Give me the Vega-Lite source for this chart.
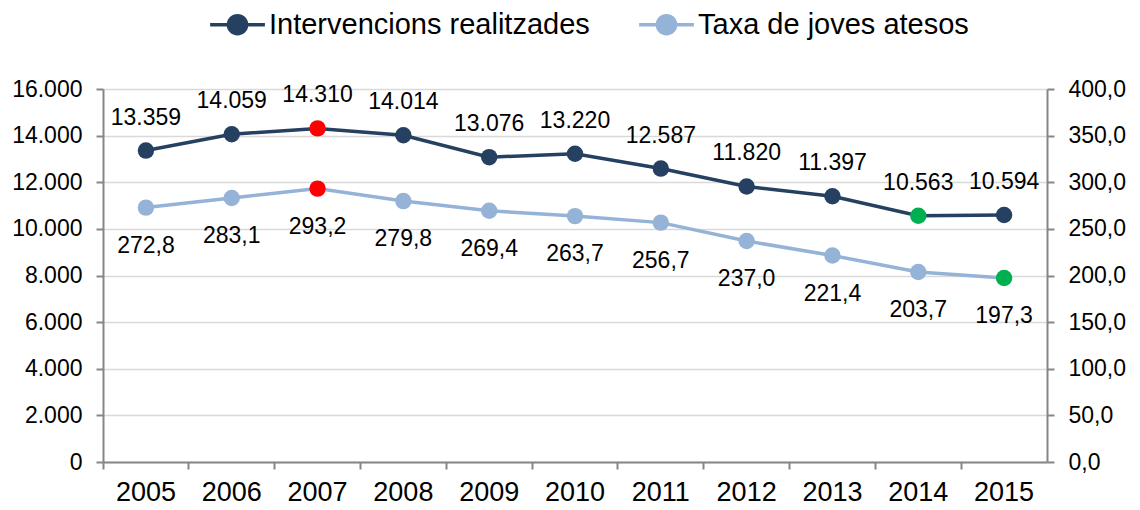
{
  "$schema": "https://vega.github.io/schema/vega-lite/v6.json",
  "width": 944,
  "height": 373,
  "autosize": {"type": "none"},
  "padding": {"left": 103, "top": 89, "right": 93, "bottom": 48},
  "config": {
    "font": "Liberation Sans",
    "view": {"stroke": null},
    "locale": {"number": {"decimal": ",", "thousands": ".", "grouping": [3], "currency": ["", " €"]}},
    "axis": {
      "domainColor": "#868686",
      "domainWidth": 2,
      "tickColor": "#868686",
      "tickWidth": 2,
      "tickSize": 7,
      "labelColor": "#000000",
      "labelFont": "Liberation Sans",
      "title": null
    }
  },
  "data": {
    "values": [
      {"year": "2005", "serie": "Intervencions realitzades", "v": 13359},
      {"year": "2006", "serie": "Intervencions realitzades", "v": 14059},
      {"year": "2007", "serie": "Intervencions realitzades", "v": 14310},
      {"year": "2008", "serie": "Intervencions realitzades", "v": 14014},
      {"year": "2009", "serie": "Intervencions realitzades", "v": 13076},
      {"year": "2010", "serie": "Intervencions realitzades", "v": 13220},
      {"year": "2011", "serie": "Intervencions realitzades", "v": 12587},
      {"year": "2012", "serie": "Intervencions realitzades", "v": 11820},
      {"year": "2013", "serie": "Intervencions realitzades", "v": 11397},
      {"year": "2014", "serie": "Intervencions realitzades", "v": 10563},
      {"year": "2015", "serie": "Intervencions realitzades", "v": 10594},
      {"year": "2005", "serie": "Taxa de joves atesos", "v": 272.8},
      {"year": "2006", "serie": "Taxa de joves atesos", "v": 283.1},
      {"year": "2007", "serie": "Taxa de joves atesos", "v": 293.2},
      {"year": "2008", "serie": "Taxa de joves atesos", "v": 279.8},
      {"year": "2009", "serie": "Taxa de joves atesos", "v": 269.4},
      {"year": "2010", "serie": "Taxa de joves atesos", "v": 263.7},
      {"year": "2011", "serie": "Taxa de joves atesos", "v": 256.7},
      {"year": "2012", "serie": "Taxa de joves atesos", "v": 237.0},
      {"year": "2013", "serie": "Taxa de joves atesos", "v": 221.4},
      {"year": "2014", "serie": "Taxa de joves atesos", "v": 203.7},
      {"year": "2015", "serie": "Taxa de joves atesos", "v": 197.3}
    ]
  },
  "transform": [
    {"joinaggregate": [{"op": "max", "field": "v", "as": "mx"}, {"op": "min", "field": "v", "as": "mn"}], "groupby": ["serie"]}
  ],
  "encoding": {
    "x": {
      "field": "year",
      "type": "ordinal",
      "scale": {"type": "band", "paddingInner": 0, "paddingOuter": 0},
      "axis": {"labelFontSize": 27, "labelPadding": 10, "labelAngle": 0, "bandPosition": 0, "grid": false}
    }
  },
  "layer": [
    {
      "transform": [{"filter": "datum.serie === 'Intervencions realitzades'"}],
      "encoding": {
        "y": {
          "field": "v",
          "type": "quantitative",
          "scale": {"domain": [0, 16000], "nice": false, "zero": true},
          "axis": {
            "orient": "left",
            "values": [0, 2000, 4000, 6000, 8000, 10000, 12000, 14000, 16000],
            "format": ",d",
            "labelFontSize": 23,
            "labelPadding": 14,
            "grid": true,
            "gridColor": "#D9D9D9",
            "gridWidth": 1.5
          }
        }
      },
      "layer": [
        {
          "mark": {"type": "line", "strokeWidth": 3.5},
          "encoding": {
            "color": {
              "field": "serie",
              "type": "nominal",
              "scale": {"domain": ["Intervencions realitzades", "Taxa de joves atesos"], "range": ["#254061", "#95B3D7"]},
              "legend": {
                "title": null,
                "orient": "none",
                "legendX": 105,
                "legendY": -94,
                "direction": "horizontal",
                "labelFontSize": 29,
                "labelLimit": 0,
                "labelColor": "#000000",
                "labelFont": "Liberation Sans",
                "symbolType": "M-1,0H1M-0.33,0A0.33,0.33,0,1,1,0.33,0A0.33,0.33,0,1,1,-0.33,0Z",
                "symbolSize": 3000,
                "symbolStrokeWidth": 3.5,
                "labelOffset": 2,
                "columnPadding": 42,
                "encode": {
                  "symbols": {
                    "update": {
                      "fill": {"scale": "color", "field": "value"},
                      "stroke": {"scale": "color", "field": "value"},
                      "fillOpacity": {"value": 1}
                    }
                  }
                }
              }
            }
          }
        },
        {
          "mark": {"type": "point", "filled": true, "size": 270, "opacity": 1},
          "encoding": {
            "color": {
              "condition": [
                {"test": "datum.v === datum.mx", "value": "#FF0000"},
                {"test": "datum.v === datum.mn", "value": "#00B050"}
              ],
              "field": "serie",
              "type": "nominal"
            }
          }
        },
        {
          "mark": {"type": "text", "fontSize": 23, "dy": -33, "color": "#000000", "baseline": "middle"},
          "encoding": {"text": {"field": "v", "type": "quantitative", "format": ",d"}}
        }
      ]
    },
    {
      "transform": [{"filter": "datum.serie === 'Taxa de joves atesos'"}],
      "encoding": {
        "y": {
          "field": "v",
          "type": "quantitative",
          "scale": {"domain": [0, 400], "nice": false, "zero": true},
          "axis": {
            "orient": "right",
            "values": [0, 50, 100, 150, 200, 250, 300, 350, 400],
            "format": ".1f",
            "labelFontSize": 23,
            "labelPadding": 14,
            "grid": false
          }
        }
      },
      "layer": [
        {
          "mark": {"type": "line", "strokeWidth": 3.5},
          "encoding": {"color": {"field": "serie", "type": "nominal"}}
        },
        {
          "mark": {"type": "point", "filled": true, "size": 270, "opacity": 1},
          "encoding": {
            "color": {
              "condition": [
                {"test": "datum.v === datum.mx", "value": "#FF0000"},
                {"test": "datum.v === datum.mn", "value": "#00B050"}
              ],
              "field": "serie",
              "type": "nominal"
            }
          }
        },
        {
          "mark": {"type": "text", "fontSize": 23, "dy": 38, "color": "#000000", "baseline": "middle"},
          "encoding": {"text": {"field": "v", "type": "quantitative", "format": ".1f"}}
        }
      ]
    }
  ],
  "resolve": {"scale": {"y": "independent"}}
}
